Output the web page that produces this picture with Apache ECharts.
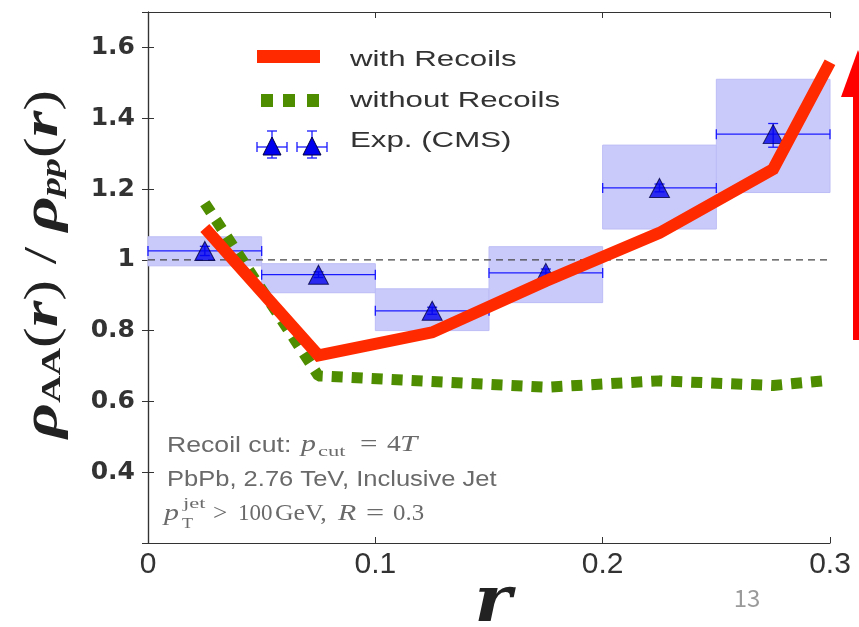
<!DOCTYPE html>
<html><head><meta charset="utf-8">
<script src="https://cdn.jsdelivr.net/npm/echarts@6/dist/echarts.min.js"></script>
<style>html,body{margin:0;padding:0;background:#fff}#c{width:859px;height:627px}</style>
</head><body><div id="c"></div>
<script>
// ---- data ----
const binLow = [0, 0.05, 0.10, 0.15, 0.20, 0.25];
const binHigh = [0.05, 0.10, 0.15, 0.20, 0.25, 0.30];
const binCenter = [0.025, 0.075, 0.125, 0.175, 0.225, 0.275];
const cmsValue = [1.025, 0.958, 0.856, 0.963, 1.203, 1.355];
const sysLow = [0.983, 0.907, 0.800, 0.879, 1.087, 1.190];
const sysHigh = [1.065, 0.989, 0.918, 1.037, 1.324, 1.510];
const statLow = [1.012, 0.950, 0.846, 0.952, 1.192, 1.318];
const statHigh = [1.038, 0.966, 0.866, 0.974, 1.214, 1.385];
const withX = [0.025, 0.075, 0.125, 0.175, 0.225, 0.275, 0.300];
const withY = [1.090, 0.730, 0.795, 0.940, 1.076, 1.256, 1.558];
const withoutX = [0.025, 0.075, 0.125, 0.175, 0.225, 0.275, 0.300];
const withoutY = [1.160, 0.672, 0.656, 0.640, 0.658, 0.645, 0.660];
const refLine = [[0, 1], [0.3, 1]];
const xTicks = [0, 0.1, 0.2, 0.3];
const yTicks = [0.4, 0.6, 0.8, 1.0, 1.2, 1.4, 1.6];

const chart = echarts.init(document.getElementById('c'));
const sans = '"Liberation Sans", Arial, Helvetica, sans-serif';
const serif = '"Liberation Serif", "DejaVu Serif", serif';
const grey = '#6a6a6a';

function boxRender(params, api) {
  const p0 = api.coord([api.value(0), api.value(3)]);
  const p1 = api.coord([api.value(1), api.value(2)]);
  return {type: 'rect', shape: {x: p0[0], y: p0[1], width: p1[0] - p0[0], height: p1[1] - p0[1]},
    style: {fill: '#cacafa', stroke: '#bcbcf6', lineWidth: 1}};
}
function errRender(params, api) {
  const xl = api.coord([api.value(0), api.value(2)]);
  const xh = api.coord([api.value(1), api.value(2)]);
  const yl = api.coord([api.value(5), api.value(3)]);
  const yh = api.coord([api.value(5), api.value(4)]);
  const c = 5, st = {stroke: '#1a1aff', lineWidth: 1.3};
  return {type: 'group', children: [
    {type: 'line', shape: {x1: xl[0], y1: xl[1], x2: xh[0], y2: xh[1]}, style: st},
    {type: 'line', shape: {x1: xl[0], y1: xl[1] - c, x2: xl[0], y2: xl[1] + c}, style: st},
    {type: 'line', shape: {x1: xh[0], y1: xh[1] - c, x2: xh[0], y2: xh[1] + c}, style: st},
    {type: 'line', shape: {x1: yl[0], y1: yl[1], x2: yh[0], y2: yh[1]}, style: st},
    {type: 'line', shape: {x1: yl[0] - c, y1: yl[1], x2: yl[0] + c, y2: yl[1]}, style: st},
    {type: 'line', shape: {x1: yh[0] - c, y1: yh[1], x2: yh[0] + c, y2: yh[1]}, style: st}
  ]};
}

const axisLine = {show: true, lineStyle: {color: '#333', width: 1.2}};
const tickIn = {show: true, inside: true, length: 6, lineStyle: {color: '#333', width: 1}};

function legendText(t, y) {
  return {type: 'text', x: 350, y: y, scaleX: 1.42, style: {text: t, font: '22px ' + sans, fill: '#333', verticalAlign: 'middle'}};
}
function t(x, y, text, font, sx) {
  return {type: 'text', x: x, y: y, scaleX: sx || 1, style: {text: text, font: font, fill: grey, verticalAlign: 'middle'}};
}
const mItal = 'italic 23px ' + serif, mRom = '23px ' + serif, mSmall = '15px ' + serif;
const L1 = 446, L2 = 480, L3 = 514;

const graphics = [
  // legend
  {type: 'rect', shape: {x: 257, y: 50, width: 63, height: 13}, style: {fill: '#ff2a00'}},
  {type: 'rect', shape: {x: 261, y: 94, width: 12, height: 13}, style: {fill: '#4e8c00'}},
  {type: 'rect', shape: {x: 283, y: 94, width: 12, height: 13}, style: {fill: '#4e8c00'}},
  {type: 'rect', shape: {x: 307, y: 94, width: 12, height: 13}, style: {fill: '#4e8c00'}},
  legendText('with Recoils', 60),
  legendText('without Recoils', 101),
  legendText('Exp. (CMS)', 141),
  // annotation line 1
  t(167, L1, 'Recoil cut:', '22px ' + sans, 1.21),
  t(301, L1 - 1, 'p', mItal, 1.3),
  t(318, L1 + 6, 'cut', mSmall, 1.5),
  t(360, L1 - 1, '=', mRom, 1.35),
  t(387, L1 - 1, '4', mRom, 1.2),
  t(400, L1 - 1, 'T', mItal, 1.35),
  // annotation line 2
  t(167, L2, 'PbPb, 2.76 TeV, Inclusive Jet', '22px ' + sans, 1.16),
  // annotation line 3
  t(164, L3, 'p', mItal, 1.3),
  t(183, L3 - 10, 'jet', mSmall, 1.5),
  t(182, L3 + 10, 'T', mSmall, 1.2),
  t(213, L3, '>', mRom, 1.1),
  t(238, L3, '100', mRom, 1.0),
  t(275, L3, 'GeV,', mRom, 1.12),
  t(338, L3, 'R', mItal, 1.3),
  t(366, L3, '=', mRom, 1.4),
  t(393, L3, '0.3', mRom, 1.08),
  // axis titles
  {type: 'text', x: 44, y: 264, rotation: Math.PI / 2, scaleX: 1.36, style: {
    align: 'center', verticalAlign: 'middle',
    rich: {a: {font: 'italic bold 50px ' + serif, fill: '#222'}, b: {font: 'bold 28px ' + serif, fill: '#222', padding: [18, 0, 0, 0]},
           c: {font: 'italic bold 28px ' + serif, fill: '#222', padding: [18, 0, 0, 0]}, n: {font: '46px ' + serif, fill: '#222'}},
    text: '{a|ρ}{b|AA}{n|(}{a|r}{n|) / }{a|ρ}{c|pp}{n|(}{a|r}{n|)}'}},
  {type: 'text', x: 493, y: 604, scaleX: 1.1, style: {text: 'r', align: 'center', verticalAlign: 'middle', font: 'italic bold 64px "DejaVu Serif", serif', fill: '#222'}},
  {type: 'text', x: 747, y: 598, style: {text: '13', align: 'center', verticalAlign: 'middle', font: '24px "Noto Sans CJK SC", ' + sans, fill: '#9a9a9a'}},
  // red arrow
  {type: 'line', shape: {x1: 857, y1: 340, x2: 857, y2: 92}, style: {stroke: '#ff0000', lineWidth: 8}},
  {type: 'polygon', shape: {points: [[841, 97], [875, 97], [858, 50]]}, style: {fill: '#ff0000'}}
];

// CMS legend icons (triangles + error bars)
[272, 312].forEach(cx => {
  const st = {stroke: '#1a1aff', lineWidth: 1.3};
  graphics.push({type: 'line', shape: {x1: cx - 15, y1: 147, x2: cx + 15, y2: 147}, style: st});
  graphics.push({type: 'line', shape: {x1: cx - 15, y1: 142, x2: cx - 15, y2: 152}, style: st});
  graphics.push({type: 'line', shape: {x1: cx + 15, y1: 142, x2: cx + 15, y2: 152}, style: st});
  graphics.push({type: 'line', shape: {x1: cx, y1: 131, x2: cx, y2: 158}, style: st});
  graphics.push({type: 'line', shape: {x1: cx - 5, y1: 131, x2: cx + 5, y2: 131}, style: st});
  graphics.push({type: 'line', shape: {x1: cx - 5, y1: 158, x2: cx + 5, y2: 158}, style: st});
  graphics.push({type: 'polygon', shape: {points: [[cx - 9, 155], [cx + 9, 155], [cx, 137]]}, style: {fill: '#0000ee', stroke: '#000044', lineWidth: 1}});
});

const option = {
  animation: false,
  backgroundColor: '#fff',
  grid: {left: 148, right: 29, top: 12, bottom: 84, containLabel: false},
  xAxis: [
    {type: 'value', min: 0, max: 0.3, interval: 0.1, axisLine, axisTick: tickIn, splitLine: {show: false},
     axisLabel: {fontFamily: sans, fontSize: 30, color: '#333', margin: 7,
       formatter: v => String(parseFloat(v.toFixed(2)))}},
    {type: 'value', position: 'top', min: 0, max: 0.3, interval: 0.1, axisLine, axisTick: tickIn, axisLabel: {show: false}, splitLine: {show: false}}
  ],
  yAxis: [
    {type: 'value', min: 0.2, max: 1.7, interval: 0.2, axisLine, axisTick: tickIn, splitLine: {show: false},
     axisLabel: {fontFamily: '"DejaVu Sans", sans-serif', fontWeight: 'bold', fontSize: 25, color: '#333', margin: 13,
       formatter: v => (v < 0.3 || v > 1.65) ? '' : String(parseFloat(v.toFixed(2)))}},
    {type: 'value', position: 'right', min: 0.2, max: 1.7, interval: 0.2, axisLine, axisTick: tickIn, axisLabel: {show: false}, splitLine: {show: false}}
  ],
  graphic: graphics,
  series: [
    {type: 'custom', name: 'sys', renderItem: boxRender, z: 1,
     data: binLow.map((x, i) => [x, binHigh[i], sysLow[i], sysHigh[i]])},
    {type: 'line', name: 'ref', data: refLine, symbol: 'none', z: 2,
     lineStyle: {color: '#444', width: 1.2, type: [7, 5]}},
    {type: 'custom', name: 'err', renderItem: errRender, z: 3,
     data: binLow.map((x, i) => [x, binHigh[i], cmsValue[i], statLow[i], statHigh[i], binCenter[i]])},
    {type: 'scatter', name: 'Exp. (CMS)', z: 4, symbol: 'triangle', symbolSize: [20, 19],
     itemStyle: {color: '#0000ee', borderColor: '#000044', borderWidth: 1},
     data: binCenter.map((x, i) => [x, cmsValue[i]])},
    {type: 'line', name: 'without Recoils', z: 5, symbol: 'none', clip: true,
     lineStyle: {color: '#4e8c00', width: 11, type: [11, 9], cap: 'butt'},
     data: withoutX.map((x, i) => [x, withoutY[i]])},
    {type: 'line', name: 'with Recoils', z: 6, symbol: 'none', clip: false,
     lineStyle: {color: '#ff2a00', width: 12, cap: 'butt', join: 'miter'},
     data: withX.map((x, i) => [x, withY[i]])}
  ]
};
chart.setOption(option);
</script></body></html>
